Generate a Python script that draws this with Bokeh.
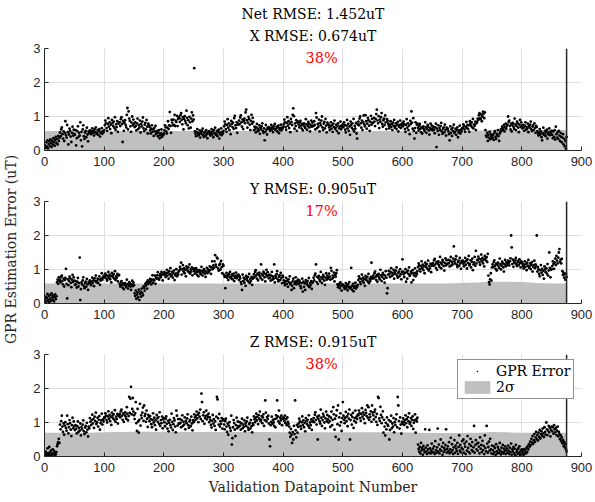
import numpy as np
from bokeh.plotting import figure
from bokeh.layouts import column, row
from bokeh.models import Range1d, FixedTicker, Span, Title, Legend, LegendItem
from bokeh.embed import file_html
from bokeh.resources import INLINE
from bokeh.core.properties import value

# ---------------- data ----------------
title_lines = [["Net RMSE: 1.452uT", "X RMSE: 0.674uT"], ["Y RMSE: 0.905uT"], ["Z RMSE: 0.915uT"]]
percent_labels = ["38%", "17%", "38%"]
x_ticks = [0, 100, 200, 300, 400, 500, 600, 700, 800, 900]
y_ticks = [0, 1, 2, 3]
n_points = 875
x_label = "Validation Datapoint Number"
y_label = "GPR Estimation Error (uT)"
legend_labels = ["GPR Error", "2σ"]

# 2-sigma envelope (hundredths of uT), sampled every 25 datapoints (0..875)
sigma_index = [0, 25, 50, 75, 100, 125, 150, 175, 200, 225, 250, 275, 300, 325, 350, 375, 400, 425,
               450, 475, 500, 525, 550, 575, 600, 625, 650, 675, 700, 725, 750, 775, 800, 825, 850, 875]
sigma_x = [57, 57, 57, 57, 57, 57, 57, 57, 57, 57, 57, 57, 57, 57, 57, 57, 57, 57,
           57, 57, 57, 57, 57, 57, 57, 57, 57, 57, 57, 58, 61, 61, 61, 60, 60, 60]
sigma_y = [59, 59, 59, 59, 59, 59, 59, 59, 59, 59, 59, 59, 59, 59, 59, 59, 59, 59,
           59, 59, 59, 59, 59, 59, 59, 59, 59, 59, 60, 62, 64, 64, 63, 60, 59, 59]
sigma_z = [70, 70, 70, 70, 71, 72, 73, 73, 73, 73, 72, 72, 72, 72, 72, 72, 71, 71,
           71, 71, 71, 71, 71, 71, 71, 70, 69, 69, 69, 70, 72, 71, 70, 70, 70, 70]

# GPR errors per validation datapoint (hundredths of uT)
err_x = [
    15, 8, 24, 11, 30, 6, 19, 27, 13, 33, 21, 10, 28, 17, 36, 24, 14, 31, 40, 22, 34, 18, 43, 28, 37,
    53, 42, 62, 68, 48, 35, 56, 28, 51, 86, 45, 38, 75, 54, 18, 47, 64, 57, 41, 25, 52, 70, 44, 61, 49,
    46, 60, 15, 36, 57, 71, 40, 52, 44, 83, 30, 55, 12, 62, 74, 42, 34, 53, 58, 39, 67, 47, 27, 56, 51,
    59, 53, 48, 56, 65, 51, 58, 44, 62, 54, 68, 49, 52, 60, 46, 57, 63, 41, 51, 55, 66, 49, 57, 54, 60,
    74, 88, 80, 66, 58, 78, 95, 70, 83, 63, 76, 51, 90, 81, 72, 85, 67, 98, 61, 77, 69, 86, 55, 79, 82,
    83, 72, 92, 98, 78, 25, 86, 58, 81, 89, 75, 68, 105, 125, 62, 115, 94, 87, 71, 55, 82, 100, 74, 91, 79,
    69, 83, 72, 59, 80, 94, 63, 75, 67, 88, 53, 78, 71, 85, 97, 65, 57, 76, 81, 62, 90, 70, 50, 79, 74,
    69, 59, 50, 64, 74, 55, 62, 43, 66, 56, 72, 48, 52, 58, 42, 52, 60, 36, 45, 50, 62, 40, 48, 45, 50,
    59, 74, 68, 56, 50, 67, 86, 63, 74, 113, 72, 52, 90, 82, 74, 91, 75, 105, 72, 88, 84, 102, 72, 93, 98,
    95, 84, 104, 110, 90, 77, 98, 62, 93, 101, 87, 80, 117, 96, 74, 89, 65, 99, 83, 67, 94, 112, 86, 103, 91,
    242, 56, 49, 42, 54, 63, 44, 51, 46, 59, 38, 53, 49, 57, 64, 45, 40, 52, 55, 43, 60, 48, 36, 54, 51,
    57, 50, 44, 53, 63, 47, 56, 39, 60, 51, 67, 46, 49, 58, 42, 54, 61, 35, 48, 53, 65, 45, 55, 50, 58,
    71, 85, 77, 63, 55, 75, 92, 67, 80, 60, 73, 48, 87, 78, 69, 82, 64, 95, 102, 74, 66, 83, 52, 76, 79,
    88, 77, 97, 103, 83, 70, 91, 63, 86, 94, 80, 112, 120, 89, 67, 82, 99, 92, 76, 60, 87, 105, 79, 96, 84,
    60, 70, 62, 53, 68, 78, 56, 64, 59, 74, 49, 67, 62, 71, 80, 57, 52, 65, 30, 55, 75, 61, 47, 67, 64,
    69, 63, 58, 66, 75, 61, 68, 54, 72, 64, 78, 60, 63, 70, 56, 67, 73, 51, 61, 66, 76, 59, 67, 64, 70,
    77, 91, 83, 69, 61, 81, 98, 73, 86, 66, 79, 54, 93, 84, 75, 105, 124, 101, 64, 80, 72, 89, 58, 82, 85,
    76, 68, 82, 87, 73, 64, 78, 59, 75, 80, 70, 66, 92, 77, 61, 72, 84, 79, 68, 56, 75, 88, 70, 82, 73,
    72, 86, 75, 62, 110, 97, 66, 78, 70, 91, 56, 81, 74, 88, 100, 68, 60, 79, 84, 65, 93, 73, 53, 82, 77,
    76, 68, 60, 72, 83, 64, 74, 55, 79, 69, 88, 63, 67, 76, 58, 72, 80, 51, 65, 71, 85, 62, 73, 68, 77,
    69, 83, 75, 61, 53, 73, 90, 65, 78, 58, 71, 46, 85, 76, 67, 80, 62, 93, 56, 72, 64, 81, 50, 35, 77,
    85, 74, 94, 100, 80, 67, 88, 60, 83, 103, 77, 71, 104, 86, 64, 79, 96, 89, 73, 58, 84, 102, 76, 93, 81,
    82, 96, 85, 72, 93, 107, 120, 88, 80, 101, 66, 91, 84, 98, 110, 78, 70, 89, 94, 75, 103, 83, 63, 92, 87,
    79, 72, 65, 76, 86, 69, 78, 60, 82, 73, 90, 67, 71, 80, 63, 76, 84, 56, 70, 75, 88, 66, 77, 72, 81,
    71, 85, 77, 63, 55, 75, 92, 67, 80, 60, 73, 48, 87, 78, 115, 82, 64, 95, 58, 35, 66, 83, 52, 76, 79,
    67, 59, 73, 78, 64, 54, 69, 50, 66, 71, 62, 57, 83, 68, 52, 63, 75, 70, 59, 47, 66, 79, 61, 73, 64,
    59, 70, 61, 51, 68, 79, 10, 64, 57, 74, 46, 66, 60, 72, 81, 56, 49, 64, 68, 53, 76, 60, 44, 67, 63,
    64, 56, 48, 30, 71, 52, 62, 43, 67, 57, 76, 51, 55, 64, 46, 60, 68, 39, 53, 59, 73, 50, 61, 56, 65,
    66, 77, 71, 62, 55, 70, 84, 66, 75, 63, 74, 55, 86, 79, 72, 83, 68, 93, 65, 77, 73, 85, 60, 80, 84,
    94, 90, 104, 110, 96, 92, 106, 86, 100, 114, 108, 95, 112, 60, 44, 40, 52, 28, 46, 38, 55, 33, 48, 42, 36,
    38, 46, 31, 52, 57, 40, 34, 49, 44, 60, 42, 28, 50, 55, 62, 58, 70, 66, 61, 75, 56, 68, 79, 64, 72,
    76, 100, 84, 88, 72, 62, 79, 56, 75, 81, 70, 64, 94, 77, 60, 72, 85, 80, 67, 54, 76, 90, 69, 83, 73,
    65, 75, 67, 58, 73, 83, 61, 69, 64, 79, 54, 72, 67, 76, 85, 62, 57, 70, 74, 60, 80, 66, 52, 72, 69,
    57, 50, 44, 53, 63, 47, 56, 39, 30, 51, 67, 46, 49, 58, 42, 54, 61, 35, 48, 53, 65, 45, 55, 50, 58,
    46, 36, 56, 40, 60, 32, 70, 48, 38, 54, 34, 58, 44, 28, 52, 40, 24, 38, 48, 18, 34, 12, 28, 5, 40,
]

err_y = [
    12, 20, 5, 16, 28, 9, 22, 3, 14, 25, 8, 30, 18, 11, 24, 6, 19, 27, 13, 21, 62, 70, 58, 77, 66,
    70, 62, 78, 82, 66, 56, 73, 50, 69, 75, 102, 58, 15, 71, 54, 66, 79, 74, 61, 48, 70, 84, 63, 77, 67,
    55, 66, 57, 47, 64, 75, 50, 60, 135, 10, 42, 62, 56, 68, 77, 52, 45, 60, 64, 49, 72, 56, 40, 63, 59,
    68, 61, 54, 64, 76, 60, 68, 51, 74, 66, 82, 62, 66, 73, 60, 71, 80, 55, 67, 73, 89, 70, 78, 76, 82,
    78, 88, 83, 73, 67, 81, 93, 75, 85, 71, 80, 62, 90, 83, 77, 86, 73, 95, 69, 80, 75, 87, 65, 82, 84,
    57, 50, 62, 66, 54, 46, 59, 42, 56, 60, 52, 48, 70, 57, 44, 53, 63, 59, 50, 40, 56, 67, 51, 62, 54,
    30, 22, 38, 14, 26, 33, 18, 41, 10, 28, 35, 20, 44, 31, 24, 50, 46, 38, 58, 53, 62, 44, 68, 57, 64,
    62, 72, 65, 56, 70, 83, 61, 70, 68, 82, 58, 76, 73, 83, 92, 74, 70, 82, 86, 77, 93, 84, 68, 88, 86,
    92, 85, 78, 89, 99, 82, 91, 73, 95, 86, 104, 80, 84, 93, 76, 89, 97, 69, 83, 88, 101, 80, 90, 85, 94,
    97, 108, 102, 120, 85, 100, 113, 94, 104, 89, 99, 80, 109, 102, 96, 106, 92, 115, 88, 100, 94, 106, 83, 101, 103,
    95, 88, 100, 104, 92, 84, 97, 80, 94, 98, 90, 86, 108, 95, 82, 91, 101, 97, 88, 78, 94, 105, 89, 100, 92,
    96, 109, 99, 87, 106, 124, 101, 112, 105, 124, 142, 114, 108, 135, 132, 103, 96, 113, 117, 100, 125, 107, 89, 115, 111,
    84, 78, 45, 81, 90, 76, 83, 69, 87, 79, 93, 75, 78, 85, 71, 82, 88, 66, 76, 81, 91, 74, 82, 79, 85,
    69, 80, 74, 63, 57, 40, 85, 66, 76, 61, 71, 52, 81, 75, 68, 78, 64, 87, 60, 72, 66, 78, 55, 73, 75,
    86, 78, 93, 98, 82, 73, 88, 68, 85, 91, 80, 75, 115, 87, 70, 82, 94, 89, 77, 65, 86, 99, 80, 92, 83,
    74, 85, 76, 67, 82, 93, 70, 79, 73, 115, 62, 81, 76, 86, 95, 71, 65, 79, 83, 69, 90, 75, 60, 82, 78,
    68, 61, 54, 65, 75, 58, 67, 49, 71, 62, 80, 56, 60, 40, 52, 65, 73, 45, 58, 64, 77, 56, 66, 62, 70,
    57, 68, 62, 51, 45, 60, 73, 35, 64, 49, 59, 40, 69, 63, 56, 66, 52, 75, 48, 60, 54, 66, 43, 61, 63,
    76, 68, 83, 88, 115, 63, 78, 58, 75, 81, 70, 65, 93, 77, 60, 72, 84, 79, 67, 55, 76, 89, 70, 82, 73,
    77, 88, 79, 70, 105, 96, 73, 82, 76, 91, 65, 84, 79, 89, 98, 56, 48, 54, 58, 45, 62, 52, 38, 56, 54,
    54, 48, 43, 51, 60, 46, 53, 39, 57, 49, 63, 45, 48, 105, 41, 52, 58, 36, 46, 51, 61, 44, 52, 49, 55,
    69, 80, 74, 63, 57, 72, 85, 66, 76, 61, 71, 52, 81, 75, 68, 78, 64, 87, 60, 72, 66, 78, 120, 73, 75,
    82, 74, 89, 94, 78, 69, 84, 64, 81, 87, 76, 71, 99, 83, 66, 78, 90, 85, 73, 61, 82, 95, 76, 30, 45,
    85, 96, 87, 78, 93, 104, 81, 90, 84, 99, 73, 92, 87, 97, 106, 82, 76, 90, 94, 80, 101, 86, 71, 93, 130,
    94, 86, 78, 90, 101, 64, 92, 73, 97, 87, 106, 81, 85, 94, 62, 90, 98, 69, 83, 89, 103, 80, 91, 86, 95,
    107, 118, 112, 101, 94, 110, 124, 104, 114, 98, 109, 89, 120, 113, 106, 116, 102, 126, 97, 110, 103, 117, 92, 111, 114,
    119, 111, 127, 131, 115, 105, 122, 99, 118, 124, 113, 107, 137, 120, 103, 115, 128, 123, 110, 97, 119, 133, 112, 127, 116,
    117, 128, 119, 109, 126, 137, 112, 122, 115, 132, 168, 124, 118, 130, 139, 114, 107, 122, 126, 111, 134, 118, 102, 125, 121,
    126, 117, 109, 122, 134, 114, 125, 103, 130, 119, 140, 112, 116, 127, 106, 123, 132, 98, 115, 121, 137, 111, 155, 118, 128,
    127, 138, 132, 121, 114, 130, 144, 124, 134, 118, 129, 109, 140, 133, 126, 136, 122, 146, 82, 63, 56, 71, 89, 67, 106,
    115, 107, 122, 127, 111, 102, 117, 97, 114, 120, 109, 104, 132, 116, 100, 111, 123, 118, 106, 94, 115, 128, 109, 121, 112,
    118, 126, 119, 112, 124, 133, 200, 165, 116, 129, 108, 123, 119, 127, 134, 115, 110, 121, 125, 113, 130, 119, 106, 124, 121,
    117, 110, 103, 114, 124, 107, 116, 98, 120, 111, 128, 105, 109, 118, 101, 114, 122, 94, 108, 113, 126, 104, 115, 110, 200,
    94, 107, 100, 87, 80, 98, 113, 91, 102, 84, 96, 73, 109, 100, 92, 104, 88, 116, 82, 97, 150, 105, 77, 99, 101,
    110, 124, 116, 102, 120, 132, 113, 140, 126, 118, 135, 150, 160, 122, 129, 118, 131, 95, 84, 90, 76, 86, 70, 88, 78,
]

err_z = [
    8, 14, 3, 6, 24, 10, 4, 28, 12, 5, 18, 2, 9, 21, 7, 16, 3, 11, 6, 13, 30, 36, 42, 52, 40,
    94, 80, 104, 120, 88, 72, 97, 64, 91, 101, 84, 76, 120, 95, 68, 86, 107, 98, 79, 60, 92, 114, 83, 103, 89,
    78, 92, 81, 68, 89, 103, 72, 84, 76, 97, 62, 87, 80, 94, 106, 74, 66, 85, 90, 71, 99, 79, 59, 88, 83,
    113, 102, 92, 107, 123, 97, 110, 84, 117, 104, 129, 95, 100, 114, 88, 108, 119, 79, 98, 106, 126, 94, 109, 103, 115,
    114, 127, 120, 107, 100, 118, 133, 111, 122, 104, 116, 93, 129, 120, 112, 124, 108, 136, 102, 117, 110, 125, 97, 119, 121,
    125, 115, 133, 138, 120, 108, 127, 102, 123, 130, 118, 111, 145, 126, 106, 119, 175, 128, 170, 205, 124, 140, 172, 132, 121,
    110, 127, 160, 98, 75, 140, 103, 70, 108, 155, 91, 121, 113, 129, 144, 105, 150, 119, 125, 102, 135, 111, 87, 122, 116,
    104, 119, 110, 95, 86, 108, 127, 100, 114, 92, 106, 79, 122, 112, 102, 116, 96, 130, 90, 107, 98, 117, 83, 109, 113,
    101, 89, 111, 118, 96, 82, 105, 74, 99, 108, 92, 85, 126, 102, 78, 95, 113, 106, 88, 71, 135, 120, 91, 110, 97,
    96, 110, 99, 86, 107, 121, 90, 102, 94, 115, 80, 105, 98, 112, 124, 92, 84, 103, 108, 89, 117, 97, 77, 106, 101,
    124, 115, 107, 120, 132, 112, 123, 101, 128, 117, 138, 110, 185, 160, 104, 121, 130, 96, 113, 119, 135, 109, 122, 116, 126,
    101, 115, 107, 93, 85, 105, 122, 97, 110, 90, 103, 78, 117, 175, 168, 112, 94, 125, 88, 104, 96, 113, 82, 106, 109,
    94, 80, 104, 111, 88, 72, 97, 64, 91, 101, 84, 76, 120, 35, 54, 86, 107, 98, 79, 60, 92, 114, 83, 103, 89,
    88, 101, 91, 79, 98, 111, 83, 94, 87, 106, 74, 97, 90, 103, 114, 85, 78, 95, 99, 82, 107, 89, 71, 97, 93,
    118, 109, 101, 114, 126, 106, 117, 95, 122, 111, 132, 104, 108, 119, 98, 115, 124, 90, 107, 165, 129, 103, 116, 110, 120,
    97, 50, 30, 92, 102, 117, 96, 108, 100, 90, 110, 86, 121, 112, 165, 118, 103, 135, 97, 114, 106, 120, 92, 111, 114,
    112, 104, 120, 98, 110, 92, 115, 102, 96, 88, 70, 58, 81, 64, 40, 72, 50, 90, 66, 165, 77, 56, 93, 70, 87,
    97, 111, 103, 89, 81, 101, 118, 93, 106, 86, 99, 74, 113, 104, 95, 108, 90, 121, 84, 100, 92, 109, 78, 102, 105,
    113, 101, 123, 130, 108, 94, 117, 50, 111, 120, 104, 97, 138, 114, 90, 107, 125, 118, 100, 83, 112, 132, 103, 122, 109,
    100, 118, 104, 87, 114, 132, 92, 108, 145, 124, 79, 111, 58, 120, 136, 95, 150, 50, 115, 91, 127, 101, 75, 113, 160,
    120, 108, 98, 114, 131, 104, 118, 89, 125, 111, 138, 50, 107, 122, 94, 116, 128, 84, 105, 113, 135, 100, 117, 110, 123,
    121, 135, 127, 113, 105, 125, 142, 117, 130, 110, 123, 98, 137, 128, 119, 150, 114, 145, 108, 124, 116, 133, 102, 150, 129,
    121, 109, 131, 138, 116, 102, 125, 93, 175, 172, 112, 105, 146, 122, 98, 115, 133, 70, 108, 88, 62, 99, 80, 115, 94,
    90, 107, 50, 78, 103, 120, 83, 97, 88, 113, 71, 101, 93, 109, 124, 86, 175, 150, 104, 82, 115, 94, 67, 102, 96,
    112, 102, 93, 107, 121, 98, 110, 86, 116, 104, 127, 96, 101, 113, 90, 108, 118, 81, 99, 106, 124, 70, 109, 103, 114,
    35, 22, 14, 28, 9, 40, 18, 25, 5, 31, 20, 12, 80, 26, 15, 7, 33, 21, 11, 78, 24, 9, 17, 38, 12,
    23, 13, 30, 7, 45, 19, 11, 27, 82, 15, 35, 9, 21, 50, 17, 29, 5, 40, 13, 25, 19, 34, 80, 11, 22,
    30, 15, 42, 9, 21, 55, 13, 36, 19, 7, 27, 48, 11, 32, 23, 16, 40, 8, 28, 62, 17, 34, 12, 25, 45,
    21, 50, 11, 38, 29, 7, 44, 17, 60, 25, 13, 36, 9, 52, 31, 19, 42, 15, 27, 90, 11, 34, 48, 21, 38,
    17, 40, 29, 9, 56, 23, 34, 13, 46, 19, 31, 7, 62, 25, 15, 90, 38, 11, 28, 44, 17, 52, 21, 9, 32,
    19, 7, 30, 13, 25, 5, 36, 15, 9, 28, 21, 11, 40, 17, 6, 26, 13, 34, 9, 23, 15, 30, 7, 19, 24,
    11, 32, 17, 7, 26, 13, 38, 5, 21, 15, 28, 9, 23, 3, 34, 13, 19, 7, 24, 11, 30, 5, 17, 9, 21,
    7, 15, 5, 22, 11, 19, 9, 26, 13, 30, 21, 36, 29, 44, 33, 52, 41, 60, 37, 48, 66, 43, 56, 72, 51,
    63, 47, 70, 58, 78, 53, 66, 74, 61, 82, 68, 57, 86, 72, 64, 100, 80, 63, 76, 90, 71, 84, 59, 78, 88,
    74, 86, 67, 92, 80, 71, 84, 63, 76, 88, 59, 72, 66, 51, 62, 45, 56, 39, 48, 31, 42, 27, 36, 21, 15,
]

# ---------------- styling ----------------
SERIF = "DejaVu Serif"
SANS = "Liberation Sans"
DARK = "#262626"
GRID = "#dedede"
FILL = "#c0c0c0"
LABEL_W = 20


def make_panel(errs, sigma, titles, pct, top, bottom, show_xlabel=False, legend=False):
    p = figure(frame_width=537, frame_height=102,
               x_range=Range1d(0, 900), y_range=Range1d(0, 3),
               output_backend="svg", toolbar_location=None,
               min_border_left=24, min_border_right=14,
               min_border_top=top, min_border_bottom=bottom,
               title=titles[0])
    p.outline_line_color = None
    p.background_fill_color = "white"
    p.border_fill_color = "white"

    t = p.title
    t.align = "center"
    t.text_font = SERIF
    t.text_font_size = "14px"
    t.text_font_style = "normal"
    t.text_color = "black"
    t.standoff = 9 if len(titles) == 1 else 0
    for extra in titles[1:]:
        p.add_layout(Title(text=extra, align="center", text_font=SERIF, text_font_size="14px",
                           text_font_style="normal", text_color="black", standoff=9), "above")

    idx = np.arange(1, len(errs) + 1)
    vals = np.array(errs) / 100.0
    sig = np.array(sigma) / 100.0

    area = p.varea(x=sigma_index, y1=np.zeros(len(sig)), y2=sig, fill_color=FILL, fill_alpha=1.0)
    p.scatter(x=idx, y=vals, size=2.8, marker="circle", fill_color="black", line_color=None)
    p.add_layout(Span(location=n_points, dimension="height", line_color=DARK, line_width=1.5))

    p.text(x=[n_points / 2], y=[2.73], text=[pct], text_font=value(SERIF), text_font_size="14.5px",
           text_color="#ff0000", text_baseline="middle", text_align="left")

    p.xaxis.ticker = FixedTicker(ticks=x_ticks)
    p.yaxis.ticker = FixedTicker(ticks=y_ticks)
    for ax in (p.xaxis[0], p.yaxis[0]):
        ax.axis_line_color = DARK
        ax.axis_line_width = 1
        ax.major_tick_line_color = DARK
        ax.major_tick_in = 4
        ax.major_tick_out = 0
        ax.minor_tick_in = 0
        ax.minor_tick_out = 0
        ax.major_label_text_font = SANS
        ax.major_label_text_font_size = "13px"
        ax.major_label_text_color = DARK
    p.xaxis.major_label_standoff = 6
    p.yaxis.major_label_standoff = 4
    p.xgrid.grid_line_color = GRID
    p.ygrid.grid_line_color = GRID

    if show_xlabel:
        p.xaxis.axis_label = x_label
        p.xaxis.axis_label_text_font = SERIF
        p.xaxis.axis_label_text_font_size = "14px"
        p.xaxis.axis_label_text_font_style = "normal"
        p.xaxis.axis_label_text_color = DARK
        p.xaxis.axis_label_standoff = 4

    if legend:
        # same points drawn as tiny "dot" markers (hidden under the circles); used for the legend swatch
        leg_dots = p.scatter(x=idx, y=vals, marker="dot", size=2.8, line_color="black",
                             fill_color="black", line_width=2)
        lg = Legend(items=[LegendItem(label=legend_labels[0], renderers=[leg_dots]),
                           LegendItem(label=legend_labels[1], renderers=[area])],
                    location=(413, 57), orientation="vertical",
                    label_text_font=SERIF, label_text_font_size="14px", label_text_color="black",
                    padding=3, spacing=0, margin=0, label_height=16, glyph_height=16, glyph_width=32,
                    label_standoff=3, border_line_color=DARK, border_line_width=1,
                    background_fill_color="white", background_fill_alpha=1.0)
        p.add_layout(lg, "center")
    return p


p1 = make_panel(err_x, sigma_x, title_lines[0], percent_labels[0], top=48, bottom=24)
p2 = make_panel(err_y, sigma_y, title_lines[1], percent_labels[1], top=27, bottom=24)
p3 = make_panel(err_z, sigma_z, title_lines[2], percent_labels[2], top=27, bottom=42,
                show_xlabel=True, legend=True)

total_h = (48 + 102 + 24) + (27 + 102 + 24) + (27 + 102 + 42)
lab = figure(frame_width=LABEL_W, frame_height=total_h, x_range=Range1d(0, 1), y_range=Range1d(0, 1),
             output_backend="svg", toolbar_location=None, min_border=0,
             min_border_left=0, min_border_right=0, min_border_top=0, min_border_bottom=0)
lab.axis.visible = False
lab.grid.visible = False
lab.outline_line_color = None
lab.background_fill_color = "white"
lab.border_fill_color = "white"
lab.text(x=[0.5], y=[0.5], text=[y_label], angle=np.pi / 2, text_font=value(SERIF),
         text_font_size="14px", text_color=DARK, text_align="center", text_baseline="middle")

layout = row(lab, column(p1, p2, p3, spacing=0), spacing=0)
open("out.html", "w").write(file_html(layout, INLINE))
